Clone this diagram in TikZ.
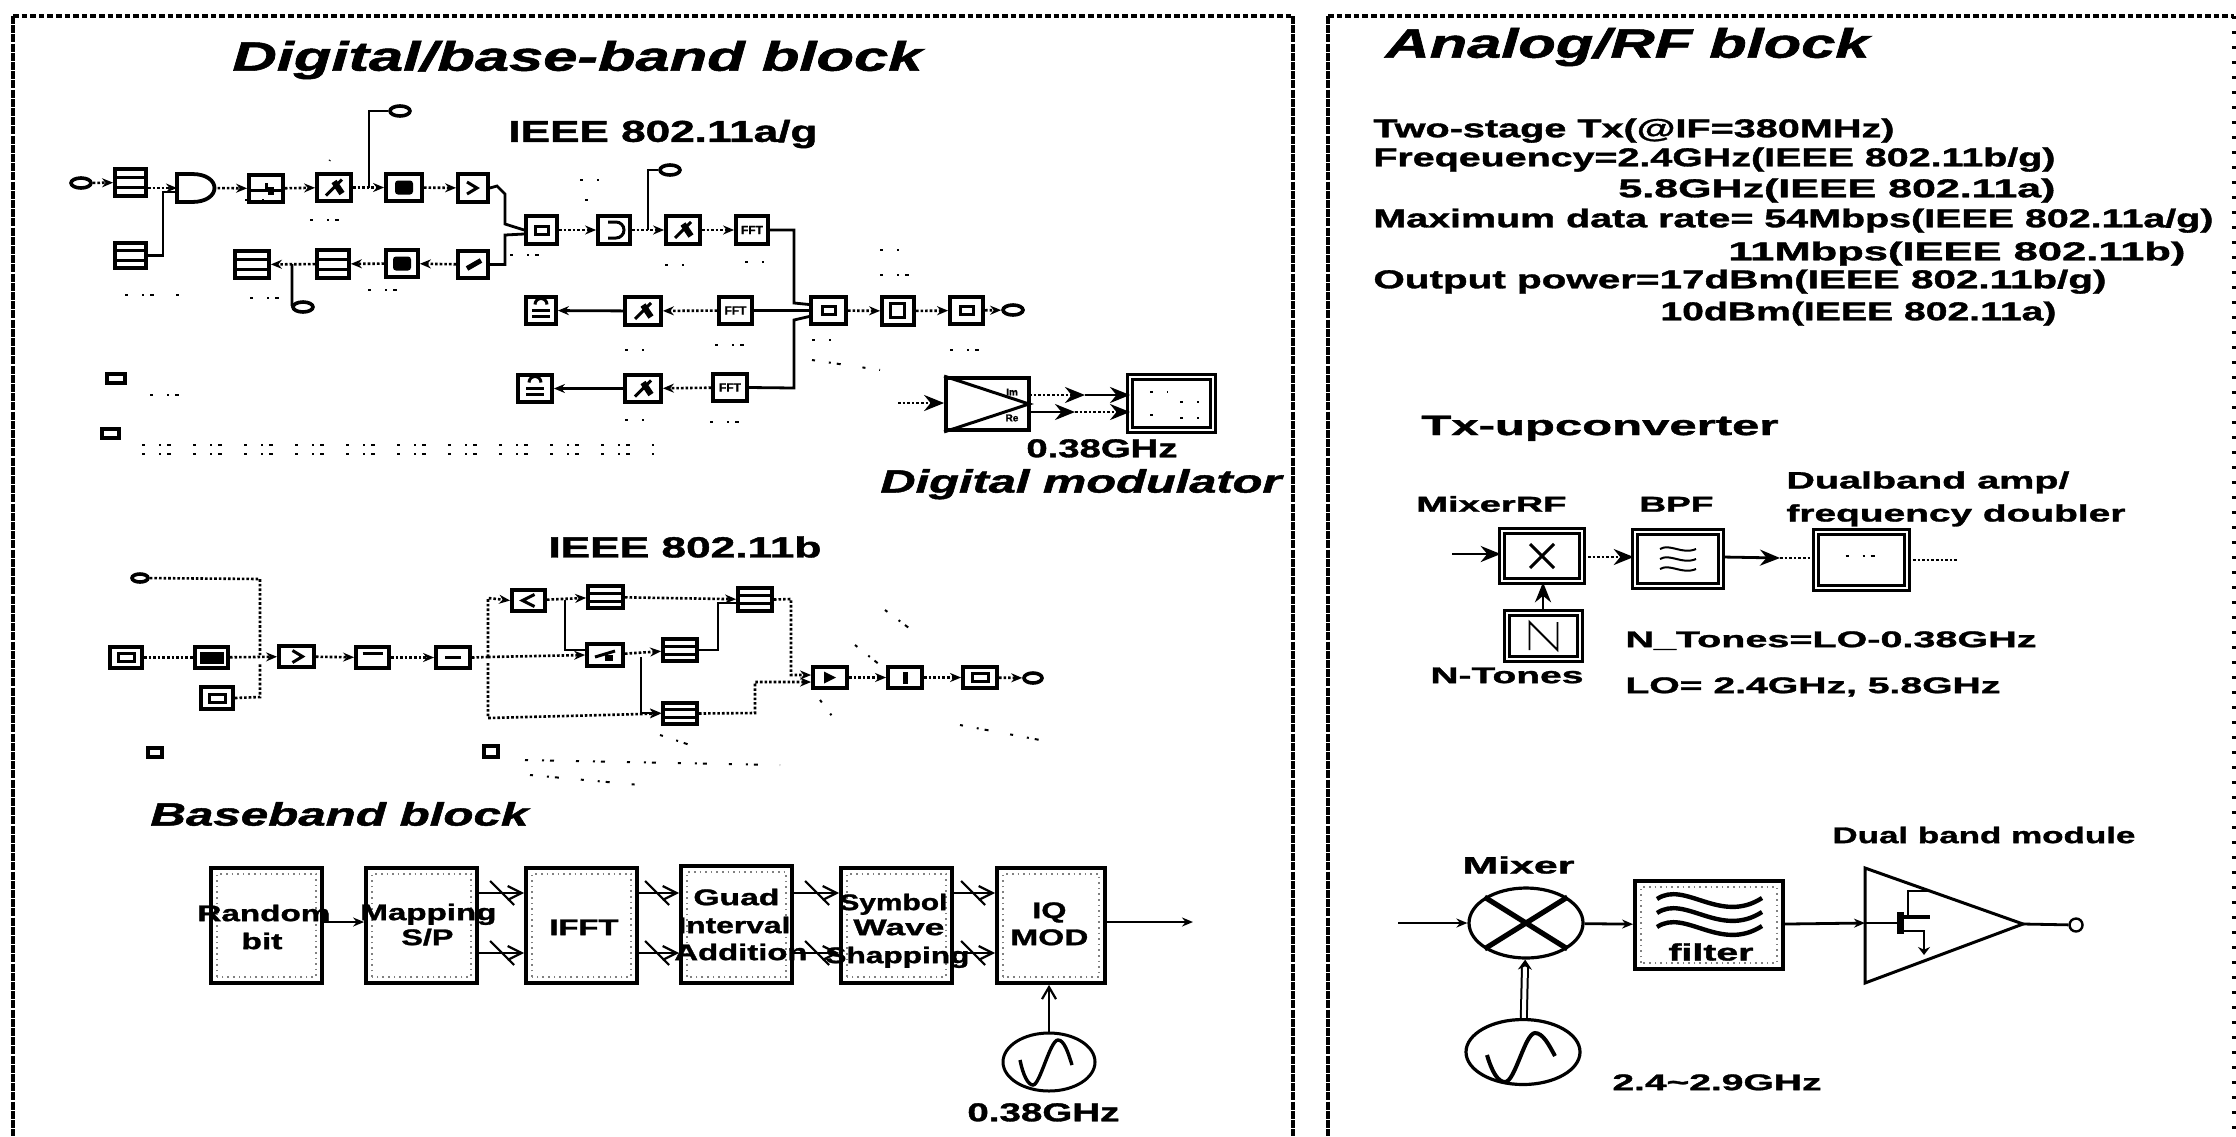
\documentclass[tikz,border=0pt]{standalone}
\usepackage{fontspec}
\setmainfont{Liberation Sans}[BoldFeatures={FakeBold=1.2},BoldItalicFeatures={FakeBold=1.2}]
\usetikzlibrary{arrows.meta,shapes.geometric}
\tikzset{
  panelh/.style={line width=2pt,dash pattern=on 2.8pt off 1.5pt},
  panelv/.style={line width=2pt,dash pattern=on 4pt off .6pt},
  panelr/.style={line width=2pt,dash pattern=on 1.5pt off 6pt},
  icon/.style={draw,line width=1.9pt,inner sep=0pt,fill=white},
  bbbox/.style={draw,line width=1.9pt,inner sep=0pt,fill=white,
    path picture={\draw[gray,line width=.8pt,dotted]
      ([shift={(3pt,3pt)}]path picture bounding box.south west) rectangle
      ([shift={(-3pt,-3pt)}]path picture bounding box.north east);}},
  dblbox/.style={draw,line width=1.3pt,double,double distance=1pt,inner sep=0pt,fill=white},
  port/.style={draw,line width=1.8pt,ellipse,inner sep=0pt,minimum width=10pt,minimum height=5pt,fill=white},
  wire/.style={line width=1.4pt},
  dotwire/.style={line width=1.3pt,densely dotted},
  arr/.style={-{Stealth[length=5.5pt,width=4.5pt]}},
  bigarr/.style={-{Stealth[length=10pt,width=8pt]}},
  sig/.style={line width=1.1pt},
  glyph/.style={line width=1.5pt},
  speck/.style={line width=1pt,dash pattern=on 1.5pt off 7pt on 1pt off 3pt on 2pt off 11pt},
}
% box from pixel extents
\newcommand\bx[6][icon]{\pgfmathsetmacro\bxw{(#4-#3)*0.5}\pgfmathsetmacro\bxh{(#6-#5)*0.5}%
  \node[#1,minimum width=\bxw pt,minimum height=\bxh pt] (#2) at ({(#3+#4)/2},{(#5+#6)/2}) {};}
% text stretched to a pixel width: name, x1, x2, ycentre, size(pt), text
\newcommand\lbl[6]{\pgfmathsetmacro\lw{(#3-#2)*0.5}\pgfmathsetmacro\fs{#5*1.08}\pgfmathsetmacro\lby{#4+0.716*\fs}%
  \node[anchor=base west,inner sep=0pt] (#1) at (#2,\lby) {\resizebox{\lw pt}{\height}{\fontsize{\fs pt}{\fs pt}\selectfont\bfseries #6}};}
\newcommand\ilbl[6]{\pgfmathsetmacro\lw{(#3-#2)*0.5}\pgfmathsetmacro\fs{#5*1.08}\pgfmathsetmacro\lby{#4+0.716*\fs}%
  \node[anchor=base west,inner sep=0pt] (#1) at (#2,\lby) {\resizebox{\lw pt}{\height}{\fontsize{\fs pt}{\fs pt}\selectfont\bfseries\itshape #6}};}
\begin{document}
\begin{tikzpicture}[x=0.5pt,y=-0.5pt]
\useasboundingbox (0,0) rectangle (2236,1136);
\fill[white] (0,0) rectangle (2236,1136);
% panels
\draw[panelh] (13,16) -- (1293,16);
\draw[panelv] (13,16) -- (13,1136);
\draw[panelv] (1293,16) -- (1293,1136);
\draw[panelh] (1328,16) -- (2234,16);
\draw[panelv] (1328,16) -- (1328,1136);
\draw[panelr] (2234,16) -- (2234,1136);
% titles
\ilbl{t1}{232}{922}{56}{19}{Digital/base-band block}
\ilbl{t2}{1385}{1869}{43}{19}{Analog/RF block}
\ilbl{t3}{880}{1281}{481}{15}{Digital modulator}
\ilbl{t4}{150}{528}{814}{15}{Baseband block}
\lbl{t5}{508}{817}{131}{14}{IEEE 802.11a/g}
\lbl{t6}{548}{821}{547}{13.5}{IEEE 802.11b}
% spec list
\lbl{s1}{1373}{1894}{128}{12}{Two-stage Tx(@IF=380MHz)}
\lbl{s2}{1373}{2055}{157}{12}{Freqeuency=2.4GHz(IEEE 802.11b/g)}
\lbl{s3}{1618}{2055}{188}{12}{5.8GHz(IEEE 802.11a)}
\lbl{s4}{1373}{2213}{218}{12}{Maximum data rate= 54Mbps(IEEE 802.11a/g)}
\lbl{s5}{1728}{2185}{251}{12}{11Mbps(IEEE 802.11b)}
\lbl{s6}{1373}{2106}{279}{12}{Output power=17dBm(IEEE 802.11b/g)}
\lbl{s7}{1660}{2056}{311}{12}{10dBm(IEEE 802.11a)}
% ---------- 802.11a/g ----------
\node[port] (inA) at (81,183) {};
\bx{A}{115}{146}{169}{196}
\bx{B}{115}{146}{243}{268}
\bx{C}{249}{283}{175}{202}
\bx{D}{317}{351}{174}{201}
\bx{E}{386}{422}{174}{201}
\bx{F}{458}{488}{174}{202}
\bx{H}{235}{269}{251}{278}
\bx{I}{317}{349}{250}{278}
\bx{J}{386}{418}{250}{277}
\bx{K}{458}{488}{251}{278}
\draw[line width=1.9pt] (177,174) -- (192,174) .. controls (222,174) and (222,202) .. (192,202) -- (177,202) -- cycle;
\coordinate (gate) at (177,188);
\coordinate (gateR) at (213,188);
\bx{G}{526}{557}{216}{244}
\bx{Ga}{598}{630}{216}{244}
\bx{Gb}{666}{700}{216}{244}
\bx{Gc}{736}{768}{216}{244}
\bx{Ra}{526}{556}{297}{324}
\bx{Rb}{625}{661}{297}{325}
\bx{Rc}{719}{752}{297}{324}
\bx{Sa}{518}{552}{375}{402}
\bx{Sb}{625}{661}{375}{402}
\bx{Sc}{713}{747}{374}{401}
\bx{M}{811}{846}{297}{324}
\bx{Ma}{882}{914}{297}{325}
\bx{Mb}{950}{983}{297}{324}
\node[port] (outA) at (1013,310) {};
\node[port] (outB) at (400,111) {};
\node[port] (outC) at (303,307) {};
\node[port] (outD) at (670,170) {};
\bx{capA}{107}{125}{374}{383}
\bx{capB}{102}{119}{429}{438}
% glyphs in the boxes
\foreach \n in {A,B,H,I}{
  \draw[glyph] ([yshift=2.5pt]\n.west) -- ([yshift=2.5pt]\n.east);
  \draw[glyph] ([yshift=-2.5pt]\n.west) -- ([yshift=-2.5pt]\n.east);}
\draw[glyph] ([yshift=-1pt]C.west) -- ([yshift=-1pt]C.east);
\draw[glyph] (C.center) -- ([yshift=3pt]C.center);
\fill ([shift={(1pt,-3pt)}]C.center) rectangle ([shift={(4pt,1pt)}]C.center);
\foreach \n in {D,Rb,Sb,Gb}{
  \draw[glyph] ([shift={(-4pt,-4pt)}]\n.center) -- ([shift={(4pt,4pt)}]\n.center);
  \draw[line width=3pt] ([shift={(0pt,3pt)}]\n.center) -- ([shift={(4pt,-3pt)}]\n.center);}
\foreach \n in {E,J}{\fill[rounded corners=1.5pt] ([shift={(-4.5pt,-3.5pt)}]\n.center) rectangle ([shift={(4.5pt,3.5pt)}]\n.center);}
\draw[glyph] ([shift={(-3pt,3pt)}]F.center) -- ([shift={(2pt,0pt)}]F.center) -- ([shift={(-3pt,-3pt)}]F.center);
\draw[line width=2.5pt] ([shift={(-3pt,-2pt)}]K.center) -- ([shift={(4pt,2pt)}]K.center);
\foreach \n in {G,M,Mb}{\draw[glyph] ([shift={(-3pt,-2pt)}]\n.center) rectangle ([shift={(3.5pt,2pt)}]\n.center);}
\draw[glyph] ([shift={(-3pt,4pt)}]Ga.center) -- ([shift={(1pt,4pt)}]Ga.center) arc[start angle=90,end angle=-90,radius=4pt] -- ([shift={(-3pt,-4pt)}]Ga.center);
\foreach \n in {Gc,Rc,Sc}{\node[font=\fontsize{6}{6}\selectfont\bfseries,inner sep=0pt] at (\n.center) {FFT};}
\draw[glyph] ([shift={(-4pt,-3pt)}]Ma.center) rectangle ([shift={(3pt,4pt)}]Ma.center);
\foreach \n in {Ra,Sa}{\draw[glyph] ([shift={(-4.5pt,0pt)}]\n.center) -- ([shift={(4.5pt,0pt)}]\n.center);
  \draw[glyph] ([shift={(-4.5pt,-3pt)}]\n.center) -- ([shift={(4.5pt,-3pt)}]\n.center);
  \draw[glyph] ([shift={(-3pt,3pt)}]\n.center) arc[start angle=180,end angle=0,radius=3pt];}
% connectors
\draw[dotwire,arr] (inA) -- (A);
\draw[dotwire,arr] (A.east|-gate) -- (gate);
\draw[wire] (B.east) -- (163,255.5) -- (163,192) -- (175,192);
\draw[dotwire,arr] (gateR) -- (C);
\draw[dotwire,arr] (C) -- (D);
\draw[dotwire,arr] (D) -- (E);
\draw[dotwire,arr] (E) -- (F);
\draw[dotwire,arr] (K) -- (J);
\draw[dotwire,arr] (J) -- (I);
\draw[dotwire,arr] (I) -- (H);
\draw[wire] (F.east) -- (497,186) -- (505,194) -- (505,224) -- (G.west);
\draw[wire] (K.east) -- (505,264.5) -- (505,235) -- ([yshift=-2pt]G.west);
\coordinate (tapA) at (369,188);
\draw[wire] (tapA) -- (369,111) -- (outB);
\coordinate (tapB) at (292,264);
\draw[wire] (tapB) -- (292,306) -- (outC);
\coordinate (tapC) at (648,230);
\draw[wire] (tapC) -- (648,170) -- (outD);
\draw[dotwire,arr] (G) -- (Ga);
\draw[dotwire,arr] (Ga) -- (Gb);
\draw[dotwire,arr] (Gb) -- (Gc);
\draw[wire] (Gc.east) -- (794,230) -- (794,303) -- ([yshift=3pt]M.west);
\draw[wire] (Rc) -- (M);
\draw[dotwire,arr] (Rc) -- (Rb);
\draw[wire,arr] (Rb) -- (Ra);
\draw[wire] (Sc.east) -- (794,388) -- (794,320) -- ([yshift=-3pt]M.west);
\draw[dotwire,arr] (Sc) -- (Sb);
\draw[wire,arr] (Sb) -- (Sa);
\draw[dotwire,arr] (M) -- (Ma);
\draw[dotwire,arr] (Ma) -- (Mb);
\draw[dotwire,arr] (Mb) -- (outA);
% specks (unreadable parameter text)
\draw[speck] (142,445) -- (654,445);
\draw[speck] (142,454) -- (654,454);
\draw[speck] (310,220) -- (350,220);\draw[speck] (245,200) -- (270,200);
\draw[speck] (320,175) -- (330,160);\draw[speck] (125,295) -- (180,295);
\draw[speck] (250,298) -- (280,298);\draw[speck] (368,290) -- (400,290);
\draw[speck] (150,395) -- (195,395);\draw[speck] (510,255) -- (545,255);
\draw[speck] (580,180) -- (600,180);\draw[speck] (585,200) -- (600,200);
\draw[speck] (665,265) -- (690,265);\draw[speck] (745,262) -- (765,262);
\draw[speck] (812,340) -- (835,340);\draw[speck] (812,360) -- (880,370);
\draw[speck] (880,250) -- (905,250);\draw[speck] (880,275) -- (920,275);
\draw[speck] (625,350) -- (650,350);\draw[speck] (715,345) -- (745,345);
\draw[speck] (625,420) -- (650,420);\draw[speck] (710,422) -- (740,422);
\draw[speck] (950,350) -- (990,350);
% modulator
\bx{Mod}{946}{1029}{378}{430}
\bx[dblbox]{Disp}{1130}{1213}{377}{430}
\draw[glyph] (Mod.north west) -- (1029,404) -- (Mod.south west);
\node[font=\fontsize{5}{5}\selectfont\bfseries,inner sep=0pt] at (1012,392) {Im};
\node[font=\fontsize{5}{5}\selectfont\bfseries,inner sep=0pt] at (1012,418) {Re};
\coordinate (modIn) at (898,403);
\draw[dotwire,bigarr] (modIn) -- (Mod.west|-modIn);
\coordinate (ma) at (1029,395);\coordinate (mb) at (1029,412);
\coordinate (mc) at (1130,395);\coordinate (md) at (1130,412);
\coordinate (mac) at (1085,395);\coordinate (mbc) at (1075,412);
\draw[dotwire,bigarr] (ma) -- (mac);\draw[wire,bigarr] (mac) -- (mc);
\draw[wire,bigarr] (mb) -- (mbc);\draw[dotwire,bigarr] (mbc) -- (md);
\draw[speck] (1150,392) -- (1168,392);\draw[speck] (1180,402) -- (1205,402);
\draw[speck] (1150,415) -- (1165,415);\draw[speck] (1180,418) -- (1205,418);
\lbl{g1}{1026}{1177}{448}{12}{0.38GHz}
% ---------- 802.11b ----------
\node[port,minimum width=8pt,minimum height=4pt] (oTop) at (140,578) {};
\bx{b1}{110}{142}{647}{668}
\bx{b2}{195}{228}{647}{668}
\bx{b3}{201}{233}{687}{709}
\bx{b4}{279}{314}{646}{667}
\bx{b5}{356}{389}{647}{668}
\bx{b6}{436}{470}{647}{668}
\bx{b7}{512}{545}{590}{611}
\bx{b8}{588}{623}{586}{608}
\bx{b9}{738}{772}{588}{611}
\bx{b10}{587}{623}{644}{666}
\bx{b11}{663}{697}{639}{661}
\bx{b12}{663}{697}{703}{724}
\bx{b13}{813}{847}{667}{688}
\bx{b14}{888}{922}{667}{688}
\bx{b15}{963}{997}{667}{688}
\node[port,minimum width=9pt,minimum height=5pt] (oB) at (1033,678) {};
\bx{capC}{148}{162}{748}{757}
\bx{capD}{484}{498}{746}{757}
\foreach \n in {b8,b9,b11,b12}{
  \draw[glyph] ([yshift=2pt]\n.west) -- ([yshift=2pt]\n.east);
  \draw[glyph] ([yshift=-2pt]\n.west) -- ([yshift=-2pt]\n.east);}
\fill ([shift={(-6pt,-3pt)}]b2.center) rectangle ([shift={(6pt,3pt)}]b2.center);
\foreach \n in {b1,b3,b15}{\draw[glyph] ([shift={(-4pt,-2pt)}]\n.center) rectangle ([shift={(4pt,2pt)}]\n.center);}
\draw[glyph] ([shift={(-2pt,3pt)}]b4.center) -- ([shift={(3pt,0pt)}]b4.center) -- ([shift={(-2pt,-3pt)}]b4.center);
\draw[glyph] ([xshift=-5pt,yshift=2pt]b5.center) -- ([xshift=5pt,yshift=2pt]b5.center);
\draw[glyph] ([xshift=-4pt]b6.center) -- ([xshift=4pt]b6.center);
\draw[glyph] ([shift={(3pt,3pt)}]b7.center) -- ([shift={(-3pt,0pt)}]b7.center) -- ([shift={(3pt,-3pt)}]b7.center);
\draw[glyph] ([shift={(-5pt,-1pt)}]b10.center) -- ([shift={(5pt,2pt)}]b10.center);
\fill ([shift={(0pt,-3pt)}]b10.center) rectangle ([shift={(4pt,0pt)}]b10.center);
\fill ([shift={(-3pt,-3pt)}]b13.center) -- ([shift={(3pt,0pt)}]b13.center) -- ([shift={(-3pt,3pt)}]b13.center) -- cycle;
\fill ([shift={(-1pt,-3pt)}]b14.center) rectangle ([shift={(1.5pt,3pt)}]b14.center);
\draw[dotwire] (b1) -- (b2);
\draw[dotwire,arr] (b2) -- (b4);
\draw[dotwire] (oTop) -- (260,579) -- (260,655);
\draw[dotwire] (b3.east) -- (260,697) -- (260,663);
\draw[dotwire,arr] (b4) -- (b5);
\draw[dotwire,arr] (b5) -- (b6);
\coordinate (fork) at (488,657);
\draw[dotwire] (b6.east) -- (fork);
\draw[dotwire,arr] (fork) -- (488,598) -- (b7.west|-b7);
\draw[dotwire,arr] (fork) -- (b10.west);
\draw[dotwire,arr] (488,663) -- (488,718) -- (b12.west|-b12);
\draw[dotwire,arr] (b7) -- (b8);
\coordinate (vt) at (565,600);
\draw[wire] (vt) -- (565,650) -- (b10.west|-0,650);
\draw[dotwire,arr] (b8) -- (b9);
\draw[dotwire,arr] (b10) -- (b11);
\coordinate (vb) at (641,657);
\draw[wire,arr] (vb) -- (641,713) -- (b12.west|-0,713);
\draw[wire] (b11.east) -- (718,650) -- (718,603) -- (b9.west|-0,603);
\draw[dotwire,arr] (b9.east) -- (791,599) -- (791,675) -- (b13.west|-0,675);
\draw[dotwire,arr] (b12.east) -- (755,713) -- (755,682) -- (b13.west|-0,682);
\draw[dotwire,arr] (b13) -- (b14);
\draw[dotwire,arr] (b14) -- (b15);
\draw[dotwire,arr] (b15) -- (oB);
\draw[speck] (885,610) -- (925,640);\draw[speck] (855,645) -- (880,665);
\draw[speck] (525,760) -- (780,765);\draw[speck] (530,775) -- (640,785);
\draw[speck] (660,735) -- (690,745);\draw[speck] (960,725) -- (1040,740);
\draw[speck] (820,700) -- (835,720);
% ---------- baseband chain ----------
\bx[bbbox]{r1}{211}{322}{868}{983}
\bx[bbbox]{r2}{366}{477}{868}{983}
\bx[bbbox]{r3}{526}{637}{868}{983}
\bx[bbbox]{r4}{681}{792}{866}{983}
\bx[bbbox]{r5}{841}{952}{868}{983}
\bx[bbbox]{r6}{997}{1105}{868}{983}
\lbl{a1}{197}{330}{913}{10.5}{Random}
\lbl{a2}{241}{282}{941}{10.5}{bit}
\lbl{a3}{360}{496}{912}{10.5}{Mapping}
\lbl{a4}{401}{453}{937}{10.5}{S/P}
\lbl{a5}{549}{618}{927}{10.5}{IFFT}
\lbl{a6}{693}{779}{897}{10.5}{Guad}
\lbl{a7}{677}{790}{925}{10.5}{Interval}
\lbl{a8}{674}{807}{952}{10.5}{Addition}
\lbl{a9}{839}{947}{902}{10.5}{Symbol}
\lbl{a10}{853}{944}{927}{10.5}{Wave}
\lbl{a11}{825}{969}{955}{10.5}{Shapping}
\lbl{a12}{1032}{1066}{910}{10.5}{IQ}
\lbl{a13}{1010}{1088}{937}{10.5}{MOD}
\draw[wire,arr] (r1.east|-0,922) -- (r2.west|-0,922);
\foreach \p/\q in {r2/r3,r3/r4,r4/r5,r5/r6}{
  \foreach \yy in {893,953}{
    \coordinate (aa) at (\p.east|-0,\yy);
    \coordinate (bb) at (\q.west|-0,\yy);
    \draw[sig,-{Straight Barb[length=7pt,width=7pt]}] (aa) -- (bb);
    \draw[sig] ([shift={(-17pt,6pt)}]bb) -- ([shift={(-5pt,-6pt)}]bb);
  }}
\coordinate (outBase) at (1193,922);
\draw[wire,arr] (r6.east|-outBase) -- (outBase);
\node[draw,line width=1.5pt,ellipse,minimum width=46pt,minimum height=29pt,inner sep=0pt] (osc1) at (1049,1062) {};
\draw[line width=1.7pt] (1020,1060) .. controls (1023,1075) and (1028,1085) .. (1033,1085) .. controls (1040,1085) and (1050,1040) .. (1058,1040) .. controls (1064,1040) and (1068,1052) .. (1072,1065);
\draw[sig,-{Straight Barb[length=6pt,width=7pt]}] (osc1) -- (r6.south-|osc1);
\lbl{g2}{967}{1119}{1112}{12}{0.38GHz}
% ---------- Tx upconverter ----------
\lbl{u1}{1421}{1778}{425}{13}{Tx-upconverter}
\lbl{u2}{1786}{2069}{480}{11}{Dualband amp/}
\lbl{u3}{1786}{2125}{513}{11}{frequency doubler}
\lbl{u4}{1416}{1566}{504}{10}{MixerRF}
\lbl{u5}{1639}{1713}{504}{10}{BPF}
\bx[dblbox]{umix}{1502}{1582}{531}{581}
\bx[dblbox]{ubpf}{1635}{1721}{532}{586}
\bx[dblbox]{uamp}{1816}{1907}{532}{588}
\bx[dblbox]{uN}{1507}{1580}{613}{659}
\draw[glyph] ([shift={(-6pt,-6pt)}]umix.center) -- ([shift={(6pt,6pt)}]umix.center);
\draw[glyph] ([shift={(-6pt,6pt)}]umix.center) -- ([shift={(6pt,-6pt)}]umix.center);
\foreach \yy in {5,0,-5}{\draw[line width=1pt] ([shift={(-9pt,\yy pt)}]ubpf.center) .. controls ([shift={(-4pt,\yy pt+3pt)}]ubpf.center) and ([shift={(2pt,\yy pt-3pt)}]ubpf.center) .. ([shift={(9pt,\yy pt)}]ubpf.center);}
\draw[line width=.9pt] ([shift={(-7pt,-7pt)}]uN.center) -- ([shift={(-7pt,7pt)}]uN.center) -- ([shift={(7pt,-7pt)}]uN.center) -- ([shift={(7pt,7pt)}]uN.center);
\draw[speck] ([shift={(-8pt,2pt)}]uamp.center) -- ([shift={(8pt,2pt)}]uamp.center);
\coordinate (uin) at (1452,554);\coordinate (uout) at (1957,560);
\draw[wire,bigarr] (uin) -- (umix.west|-uin);
\draw[dotwire,bigarr] (umix.east|-0,557) -- (ubpf.west|-0,557);
\coordinate (um) at (1780,558);
\draw[wire,bigarr] (ubpf.east|-0,557) -- (um);
\draw[dotwire] (um) -- (uamp.west|-um);
\draw[dotwire] (uamp.east|-uout) -- (uout);
\draw[wire,bigarr] (uN.north-|1543,0) -- (umix.south-|1543,0);
\lbl{u6}{1430}{1583}{675}{10.5}{N-Tones}
\lbl{u7}{1625}{2036}{639}{10.5}{N\_Tones=LO-0.38GHz}
\lbl{u8}{1625}{2000}{685}{10.5}{LO= 2.4GHz, 5.8GHz}
% ---------- dual band module ----------
\lbl{d1}{1832}{2135}{835}{10.5}{Dual band module}
\lbl{d2}{1462}{1574}{865}{11}{Mixer}
\node[draw,line width=1.6pt,ellipse,minimum width=57pt,minimum height=35pt,inner sep=0pt] (dmix) at (1526,923) {};
\draw[line width=2.6pt] (dmix.north west) -- (dmix.south east);
\draw[line width=2.6pt] (dmix.north east) -- (dmix.south west);
\bx[bbbox]{dfil}{1635}{1783}{881}{969}
\foreach \yy in {0,14,28}{
  \draw[line width=2.2pt] (1657,{899+\yy}) .. controls (1685,{880+\yy}) and (1720,{925+\yy}) .. (1762,{898+\yy});}
\lbl{d3}{1668}{1753}{952}{11}{filter}
\coordinate (damp) at (2023,924);
\coordinate (ampL) at (1865,923);
\draw[line width=1.5pt] (1865,868) -- (damp) -- (1865,983) -- cycle;
\node[draw,circle,line width=1.2pt,inner sep=0pt,minimum size=6.5pt,fill=white] (dout) at (2076,925) {};
\draw[wire] (damp) -- (dout);
\coordinate (din) at (1398,923);
\draw[wire,arr] (din) -- (dmix);
\draw[wire,arr] (dmix) -- (dfil);
\coordinate (gateD) at (1898,923);
\draw[wire,arr] (dfil) -- (ampL);
\draw[wire] (ampL) -- (gateD);
% transistor
\draw[line width=3.5pt] (1900,912) -- (1900,934);
\draw[line width=2pt] (1904,917) -- (1930,917);
\draw[line width=1.2pt] (1908,917) -- (1908,891) -- (1932,891);
\draw[line width=1.2pt] (1904,931) -- (1924,931) -- (1924,950);
\draw[line width=1.2pt,-{Stealth[length=4pt,width=6pt]}] (1924,945) -- (1924,955);
% oscillator
\node[draw,line width=1.6pt,ellipse,minimum width=57pt,minimum height=32.5pt,inner sep=0pt] (dosc) at (1523,1052) {};
\draw[line width=2pt] (1487,1055) .. controls (1492,1072) and (1498,1082) .. (1505,1082) .. controls (1515,1082) and (1525,1033) .. (1535,1033) .. controls (1543,1033) and (1549,1045) .. (1555,1056);
\draw[line width=1pt,double=white,double distance=2pt,-{Stealth[length=5pt,width=7pt]}] (dosc) -- (dmix);
\lbl{d4}{1612}{1821}{1082}{10.5}{2.4\textasciitilde 2.9GHz}
\end{tikzpicture}
\end{document}
